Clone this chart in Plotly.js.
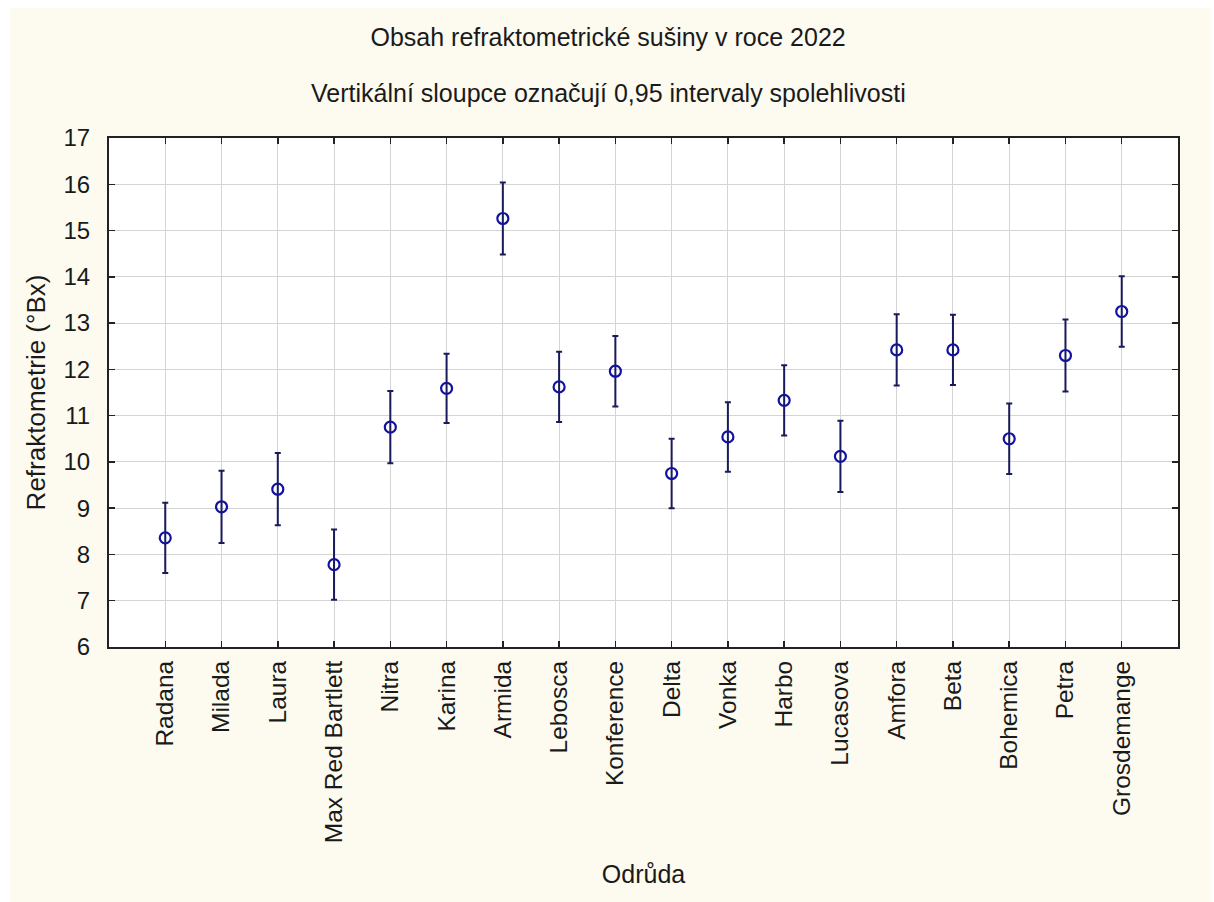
<!DOCTYPE html>
<html>
<head>
<meta charset="utf-8">
<script src="https://cdn.plot.ly/plotly-3.0.1.min.js"></script>
<style>
  html, body { margin: 0; padding: 0; background: #ffffff; }
  #chart { position: absolute; left: 10px; top: 8px; width: 1201px; height: 894px; }
</style>
</head>
<body>
<div id="chart"></div>
<script>
// Pear varieties (odrůdy)
const varieties = [
  "Radana", "Milada", "Laura", "Max Red Bartlett", "Nitra", "Karina",
  "Armida", "Lebosca", "Konference", "Delta", "Vonka", "Harbo",
  "Lucasova", "Amfora", "Beta", "Bohemica", "Petra", "Grosdemange"
];

// Mean refractometric dry matter (°Bx)
const meanBrix = [
  8.36, 9.03, 9.41, 7.78, 10.75, 11.59,
  15.26, 11.62, 11.96, 9.75, 10.54, 11.33,
  10.12, 12.42, 12.42, 10.50, 12.30, 13.25
];

// Half-width of the 0.95 confidence interval
const ciHalf = [
  0.76, 0.78, 0.78, 0.76, 0.78, 0.75,
  0.78, 0.76, 0.76, 0.75, 0.75, 0.76,
  0.77, 0.77, 0.76, 0.76, 0.78, 0.76
];

const yTicks = [6, 7, 8, 9, 10, 11, 12, 13, 14, 15, 16, 17];

const FONT = "Arial, 'Liberation Sans', sans-serif";

const trace = {
  type: "scatter",
  mode: "markers",
  x: varieties.map((_, i) => i),
  y: meanBrix,
  marker: {
    symbol: "circle-open",
    size: 11,
    color: "#1212a0",
    line: { color: "#1212a0", width: 2.2 }
  },
  error_y: {
    type: "data",
    array: ciHalf,
    symmetric: true,
    color: "#1a1a5a",
    thickness: 2,
    width: 3
  },
  hoverinfo: "skip",
  showlegend: false
};

const layout = {
  width: 1201,
  height: 894,
  paper_bgcolor: "#fdfaf0",
  plot_bgcolor: "#ffffff",
  font: { family: FONT, color: "#1a1a1a" },
  margin: { l: 99, r: 33, t: 130, b: 255 },
  title: {
    text: "Obsah refraktometrické sušiny v roce 2022",
    font: { family: FONT, size: 25, color: "#1a1a1a" },
    xref: "container", x: 0.498, xanchor: "center",
    yref: "container", y: 0.967, yanchor: "middle"
  },
  annotations: [{
    text: "Vertikální sloupce označují 0,95 intervaly spolehlivosti",
    xref: "paper", yref: "paper",
    x: 0.467, y: 1.088, xanchor: "center", yanchor: "middle",
    showarrow: false,
    font: { family: FONT, size: 25, color: "#1a1a1a" }
  }],
  xaxis: {
    range: [-1, 18],
    tickmode: "array",
    tickvals: varieties.map((_, i) => i),
    ticktext: varieties,
    tickangle: -90,
    tickfont: { family: FONT, size: 24.5, color: "#1a1a1a" },
    ticks: "inside",
    ticklen: 6,
    tickwidth: 1.5,
    tickcolor: "#222222",
    ticklabelstandoff: 2,
    showgrid: true,
    gridcolor: "#d4d4d4",
    gridwidth: 1,
    zeroline: false,
    showline: true,
    linecolor: "#222222",
    linewidth: 2,
    mirror: "ticks",
    title: {
      text: "Odrůda",
      font: { family: FONT, size: 25, color: "#1a1a1a" },
      standoff: 23
    }
  },
  yaxis: {
    range: [6, 17],
    tickmode: "array",
    tickvals: yTicks,
    ticktext: yTicks.map(String),
    tickfont: { family: FONT, size: 24, color: "#1a1a1a" },
    ticks: "inside",
    ticklen: 6,
    tickwidth: 1.5,
    tickcolor: "#222222",
    ticklabelstandoff: 12,
    showgrid: true,
    gridcolor: "#d4d4d4",
    gridwidth: 1,
    zeroline: false,
    showline: true,
    linecolor: "#222222",
    linewidth: 2,
    mirror: "ticks",
    title: {
      text: "Refraktometrie (°Bx)",
      font: { family: FONT, size: 26, color: "#1a1a1a" },
      standoff: 10
    }
  }
};

Plotly.newPlot("chart", [trace], layout, { displayModeBar: false, staticPlot: true });
</script>
</body>
</html>
